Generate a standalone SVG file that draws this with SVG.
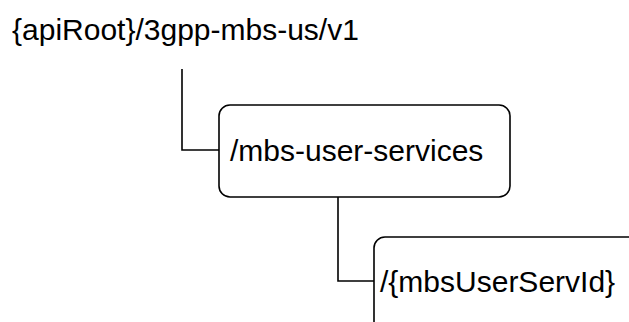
<svg xmlns="http://www.w3.org/2000/svg" width="629" height="322" viewBox="0 0 629 322">
<style>
text{font-family:"Liberation Sans",Arial,sans-serif;font-size:30px;fill:#000}
.box{fill:#fff;stroke:#000;stroke-width:1.6}
.conn{fill:none;stroke:#000;stroke-width:1.6}
</style>
<rect width="629" height="322" fill="#fff"/>
<g id="root"><text x="12" y="40">{apiRoot}/3gpp-mbs-us/v1</text></g>
<g id="connectors">
<path class="conn" d="M182,69 V150 H219"/>
<path class="conn" d="M338,197 V281 H374"/>
</g>
<g id="mbs-user-services">
<rect class="box" x="219" y="105" width="291" height="92" rx="11"/>
<text x="230" y="161">/mbs-user-services</text>
</g>
<g id="mbsUserServId">
<rect class="box" x="374" y="237" width="300" height="110" rx="11"/>
<text x="380" y="292">/{mbsUserServId}</text>
</g>
</svg>
